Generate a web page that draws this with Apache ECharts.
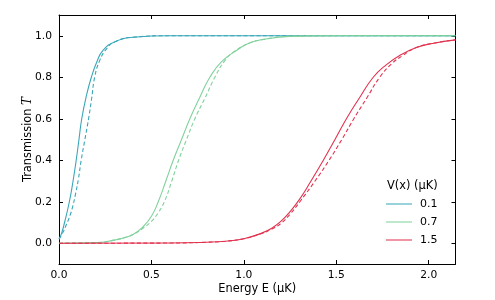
<!DOCTYPE html>
<html>
<head>
<meta charset="utf-8">
<script src="https://cdn.jsdelivr.net/npm/echarts@6/dist/echarts.min.js"></script>
<style>
html, body { margin: 0; padding: 0; background: #fff; }
#main { width: 495px; height: 300px; }
</style>
</head>
<body>
<div id="main"></div>
<script>
// tick labels
var xTicks = [0, 0.5, 1.0, 1.5, 2.0];
var yTicks = [0, 0.2, 0.4, 0.6, 0.8, 1.0];
var barrierNames = ['0.1', '0.7', '1.5'];

// V = 0.1, solid / dashed
var eTealSolid = [0, 0.013, 0.03, 0.056, 0.076, 0.093, 0.108, 0.123, 0.148, 0.175, 0.205, 0.238, 0.3, 0.4, 0.6, 2.145];
var tTealSolid = [0.02, 0.045, 0.1, 0.2, 0.3, 0.4, 0.5, 0.6, 0.71, 0.8, 0.875, 0.93, 0.97, 0.993, 1.0, 1.0];
var eTealDash = [0, 0.02, 0.04, 0.06, 0.075, 0.09, 0.105, 0.12, 0.14, 0.16, 0.177, 0.193, 0.22, 0.26, 0.3, 0.4, 0.6, 2.145];
var tTealDash = [0.02, 0.05, 0.09, 0.135, 0.18, 0.24, 0.31, 0.4, 0.5, 0.6, 0.7, 0.8, 0.88, 0.94, 0.97, 0.993, 1.0, 1.0];

// V = 0.7
var eGreenSolid = [0, 0.2, 0.3, 0.35, 0.4, 0.45, 0.5, 0.537, 0.578, 0.618, 0.663, 0.708, 0.76, 0.816, 0.88, 0.97, 1.03, 1.09, 1.25, 1.5, 2.145];
var tGreenSolid = [0, 0.003, 0.015, 0.026, 0.042, 0.075, 0.13, 0.2, 0.3, 0.4, 0.5, 0.6, 0.7, 0.8, 0.875, 0.935, 0.965, 0.98, 0.997, 1.0, 1.0];
var eGreenDash = [0, 0.2, 0.3, 0.35, 0.4, 0.45, 0.5, 0.535, 0.57, 0.61, 0.647, 0.69, 0.735, 0.79, 0.843, 0.897, 0.95, 1.03, 1.09, 1.25, 1.5, 2.145];
var tGreenDash = [0, 0.003, 0.015, 0.026, 0.042, 0.07, 0.105, 0.145, 0.2, 0.3, 0.4, 0.5, 0.6, 0.7, 0.8, 0.88, 0.925, 0.965, 0.98, 0.997, 1.0, 1.0];

// V = 1.5
var eRedSolid = [0, 0.6, 0.8, 0.9, 1.0, 1.1, 1.15, 1.2, 1.25, 1.3, 1.36, 1.43, 1.493, 1.555, 1.625, 1.70, 1.77, 1.843, 1.93, 2.02, 2.145];
var tRedSolid = [0, 0.001, 0.005, 0.01, 0.022, 0.05, 0.072, 0.105, 0.152, 0.21, 0.295, 0.4, 0.5, 0.6, 0.7, 0.8, 0.86, 0.905, 0.942, 0.963, 0.98];
var eRedDash = [0, 0.6, 0.8, 0.9, 1.0, 1.1, 1.15, 1.2, 1.25, 1.303, 1.385, 1.461, 1.53, 1.595, 1.665, 1.735, 1.80, 1.86, 1.93, 2.02, 2.145];
var tRedDash = [0, 0.001, 0.005, 0.01, 0.022, 0.048, 0.068, 0.095, 0.14, 0.2, 0.3, 0.4, 0.5, 0.6, 0.7, 0.8, 0.865, 0.905, 0.942, 0.963, 0.98];

var colors = ['#3aa7b8', '#80d29c', '#e2324f'];
var font = 'DejaVu Sans';

function pairs(xs, ys) {
	var out = [];
	for (var i = 0; i < xs.length; i++) out.push([xs[i], ys[i]]);
	return out;
}

function curve(name, xs, ys, color, dashed) {
	return {
		name: name,
		type: 'line',
		data: pairs(xs, ys),
		showSymbol: false,
		smooth: 0.5,
		lineStyle: { color: color, width: 1.1, type: dashed ? [4, 2.5] : 'solid' },
		itemStyle: { color: color },
		silent: true
	};
}

function axisLine() {
	return { show: true, onZero: false, lineStyle: { color: '#000', width: 1 } };
}

function xAxisCfg(pos, labels) {
	return {
		type: 'value', position: pos, min: 0, max: 2.145,
		axisLine: axisLine(),
		axisTick: { show: true, inside: true, length: 4, customValues: xTicks, lineStyle: { color: '#000' } },
		axisLabel: {
			show: labels, customValues: xTicks, margin: 6,
			color: '#000', fontFamily: font, fontSize: 10.7,
			formatter: function (v) { return v.toFixed(1); }
		},
		splitLine: { show: false }
	};
}

function yAxisCfg(pos, labels) {
	return {
		type: 'value', position: pos, min: -0.1, max: 1.1,
		axisLine: axisLine(),
		axisTick: { show: true, inside: true, length: 4, customValues: yTicks, lineStyle: { color: '#000' } },
		axisLabel: {
			show: labels, customValues: yTicks, margin: 7,
			color: '#000', fontFamily: font, fontSize: 10.7,
			formatter: function (v) { return v.toFixed(1); }
		},
		splitLine: { show: false }
	};
}

var myChart = echarts.init(document.getElementById('main'));

var xBottom = xAxisCfg('bottom', true);
xBottom.name = 'Energy E (μK)';
xBottom.nameLocation = 'middle';
xBottom.nameGap = 20;
xBottom.nameMoveOverlap = false;
xBottom.nameTextStyle = { color: '#000', fontFamily: font, fontSize: 11.4 };

var yLeft = yAxisCfg('left', true);
yLeft.name = 'Transmission {t|T}';
yLeft.nameLocation = 'middle';
yLeft.nameGap = 25;
yLeft.nameMoveOverlap = false;
yLeft.nameTextStyle = {
	color: '#000', fontFamily: font, fontSize: 11.4,
	rich: { t: { fontFamily: 'DejaVu Serif', fontStyle: 'italic', fontSize: 12, color: '#000' } }
};

var option = {
	animation: false,
	backgroundColor: '#fff',
	grid: { left: 59, right: 39.5, top: 15, bottom: 36 },
	title: {
		text: 'V(x) (μK)', left: 382, top: 176,
		textStyle: { color: '#000', fontFamily: font, fontSize: 11.4, fontWeight: 'normal' }
	},
	legend: {
		orient: 'vertical', left: 386, top: 198, padding: 0,
		data: barrierNames,
		icon: 'rect', itemWidth: 26, itemHeight: 1.6, itemGap: 6,
		itemStyle: { opacity: 0.65 },
		textStyle: { color: '#000', fontFamily: font, fontSize: 11, lineHeight: 12, padding: [0, 0, 0, 3] },
		selectedMode: false
	},
	xAxis: [xBottom, xAxisCfg('top', false)],
	yAxis: [yLeft, yAxisCfg('right', false)],
	series: [
		curve('0.1', eTealSolid, tTealSolid, colors[0], false),
		curve('0.1 dashed', eTealDash, tTealDash, colors[0], true),
		curve('0.7', eGreenSolid, tGreenSolid, colors[1], false),
		curve('0.7 dashed', eGreenDash, tGreenDash, colors[1], true),
		curve('1.5', eRedSolid, tRedSolid, colors[2], false),
		curve('1.5 dashed', eRedDash, tRedDash, colors[2], true)
	]
};

myChart.setOption(option);
</script>
</body>
</html>
